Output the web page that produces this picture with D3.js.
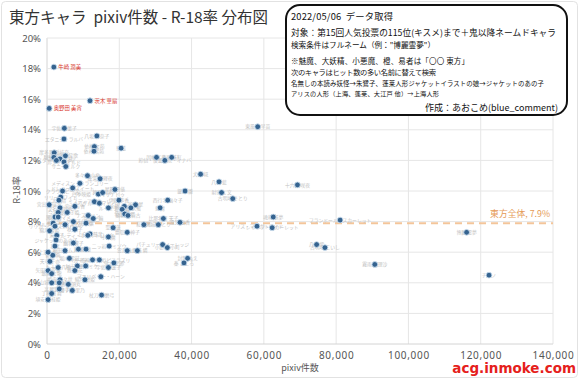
<!DOCTYPE html>
<html><head><meta charset="utf-8">
<script src="https://cdn.jsdelivr.net/npm/d3@7"></script>
<style>body{margin:0;background:#fff}svg{display:block}text{white-space:pre}</style>
</head><body>
<svg id="c" width="580" height="381"></svg>
<script>
// ---------- data ----------
const names = [
 "牛崎 潤美","茨木 華扇","奥野田 美宵","宇佐見 菫子","エタニティラルバ","八坂 神奈子","依神 女苑","依神 紫苑","純狐","摩多羅 隠岐奈",
 "庭渡 久侘歌","驪駒 早鬼","吉弔 八千慧","ルナチャイルド","スターサファイア","サニーミルク","因幡 てゐ","藤原 妹紅","鈴仙・優曇華院・イナバ","多々良 小傘",
 "蓬莱山 輝夜","犬走 椛","八雲 藍","射命丸 文","古明地 さとり","東風谷 早苗","十六夜 咲夜","魂魄 妖夢","アリス・マーガトロイド","レミリア・スカーレット",
 "フランドール・スカーレット","八雲 紫","古明地 こいし","霧雨 魔理沙","博麗 霊夢","チルノ","封獣 ぬえ","秦 こころ","西行寺 幽々子","魅魔",
 "比那名居 天子","鍵山 雛","風見 幽香","河城 にとり","紅 美鈴","パチュリー・ノーレッジ","小野塚 小町","メディスン・メランコリー","ドレミー・スイート","クラウンピース",
 "四季映姫・ヤマザナドゥ","稗田 阿求","星熊 勇儀","リリーホワイト","大妖精","ミスティア・ローレライ","リグル・ナイトバグ","ルーミア","伊吹 萃香","水橋 パルスィ",
 "宮古 芳香","少名 針妙丸","寅丸 星","今泉 影狼","赤蛮奇","わかさぎ姫","ナズーリン","雲居 一輪","霍 青娥","物部 布都",
 "蘇我 屠自古","村紗 水蜜","黒谷 ヤマメ","キスメ","リリカ・プリズムリバー","ルナサ・プリズムリバー","メルラン・プリズムリバー","秋 静葉","秋 穣子","聖 白蓮",
 "豊聡耳 神子","上白沢 慧音","レティ・ホワイトロック","小悪魔","朱鷺子","ジャケットのあの子","幽谷 響子","易者","坂田 ネムノ","二ッ岩 マミゾウ",
 "霊烏路 空","火焔猫 燐","鈴瑚","清蘭","菅牧 典","天弓 千亦","上海人形","稀神 サグメ","ヘカーティア・ラピスラズリ","鬼人 正邪",
 "堀川 雷鼓","九十九 八橋","九十九 弁々","豪徳寺 ミケ","宇佐見 蓮子","矢田寺 成美","戎 瓔花","飯綱丸 龍","マエリベリー・ハーン","綿月 依姫",
 "姫虫 百々世","山城 たかね","駒草 山如","玉造 魅須丸","高麗野 あうん","爾子田 里乃","丁礼田 舞","杖刀偶 磨弓","埴安神 袿姫","宮出口 瑞霊",
 "綿月 豊姫"
];
const pixivCounts = [
 1900,11900,600,4800,4700,13800,13100,13000,20500,2000,
 5100,1900,3600,4700,2600,5200,30300,34500,32600,11200,
 14700,42500,47600,48300,51400,58300,69300,62600,58100,62300,
 81100,74600,76900,90700,116100,122300,38900,37900,33400,31300,
 32200,38200,36800,30800,26800,32000,33300,9100,7100,4300,
 14200,15400,18800,3800,3300,13100,14500,17000,19900,21400,
 7700,3600,24500,3100,2200,5600,11400,12800,20800,21500,
 22400,23200,3100,1700,2200,7300,5000,10800,7700,18300,
 22200,11900,11300,17000,2700,2500,7300,2200,5000,17200,
 22200,25000,8700,10800,1600,800,300,12600,14500,18500,
 6200,3100,8400,10700,17000,300,7700,1300,14900,10500,
 3600,1300,3400,5900,3400,7000,1300,15100,300,600,
 700
];
const r18Rates = [
 18.1,15.9,15.4,14.1,13.4,13.6,12.9,12.6,12.8,12.5,
 12.3,12.2,12.1,11.9,12.0,11.6,12.2,12.2,12.0,11.0,
 10.8,11.1,10.6,9.9,9.5,14.2,10.4,8.3,7.7,7.6,
 8.1,6.5,6.3,5.2,7.3,4.5,5.6,5.3,9.4,8.9,
 8.2,10.0,7.95,7.8,7.8,6.5,6.3,10.5,10.2,10.0,
 9.8,9.9,10.1,9.6,9.4,9.3,9.2,8.9,9.4,9.0,
 9.0,8.9,9.1,8.6,8.3,8.6,8.4,8.2,8.8,8.5,
 8.4,8.9,8.3,7.9,7.7,8.0,7.8,7.9,7.5,7.6,
 7.3,7.2,7.1,7.0,7.1,6.8,6.6,6.4,6.1,6.4,
 6.1,6.1,6.2,6.2,5.8,5.4,6.0,5.5,5.5,5.3,
 5.6,5.0,5.1,5.1,5.0,4.8,4.8,4.6,4.4,4.2,
 4.2,4.0,4.0,3.9,3.6,3.5,3.3,3.2,2.9,9.1,
 7.4
];
const highlightNames = ["牛崎 潤美","茨木 華扇","奥野田 美宵"];
const xTicks = [0,20000,40000,60000,80000,100000,120000,140000];
const yTicks = [0,2,4,6,8,10,12,14,16,18,20];
const overallRate = 7.9;
const overallLabel = "東方全体, 7.9%";
const titleText = "東方キャラ  pixiv件数 - R-18率 分布図";
const xTitle = "pixiv件数";
const yTitle = "R-18率";
const infoLines = [
 "2022/05/06  データ取得",
 "対象：第15回人気投票の115位(キスメ)まで＋鬼以降ネームドキャラ",
 "検索条件はフルネーム（例：\"博麗霊夢\"）",
 "※魅魔、大妖精、小悪魔、橙、易者は「〇〇 東方」",
 "次のキャラはヒット数の多い名前に替えて検索",
 "名無しの本読み妖怪→朱鷺子、蓬莱人形ジャケットイラストの娘→ジャケットのあの子",
 "アリスの人形（上海、蓬莱、大江戸 他）→上海人形"
];
const creditText = "作成：あおこめ(blue_comment)";
const watermark = "acg.inmoke.com";

// ---------- layout ----------
const JP = "'Noto Sans CJK JP','Noto Sans',sans-serif";
const svg = d3.select("#c");
const L = 47, R = 553, T = 38, B = 344;
const x = d3.scaleLinear().domain([0, 140000]).range([L, R]);
const y = d3.scaleLinear().domain([0, 20]).range([B, T]);
const pts = names.map((n, i) => ({name: n, v: pixivCounts[i], r: r18Rates[i], hi: highlightNames.includes(n)}));

// card
svg.append("rect").attr("x", 1.5).attr("y", 1.5).attr("width", 576).attr("height", 376)
  .attr("rx", 4).attr("fill", "#fff").attr("stroke", "#e2e2e2");

// grid
const g = svg.append("g");
g.selectAll("line.v").data(xTicks).join("line")
  .attr("x1", d => x(d)).attr("x2", d => x(d)).attr("y1", T).attr("y2", B)
  .attr("stroke", d => d === 0 ? "#d4d4d4" : "#e6e6e6").attr("stroke-width", 1);
g.selectAll("line.h").data(yTicks).join("line")
  .attr("x1", L).attr("x2", R).attr("y1", d => y(d)).attr("y2", d => y(d))
  .attr("stroke", d => d === 0 ? "#d4d4d4" : "#e6e6e6").attr("stroke-width", 1);

// axes labels via d3 axes
const xAxis = d3.axisBottom(x).tickValues(xTicks).tickFormat(d3.format(",")).tickSize(0).tickPadding(8);
const xa = svg.append("g").attr("transform", `translate(0,${B})`).call(xAxis);
xa.select(".domain").remove();
xa.selectAll("text").attr("font-family", "'Noto Sans',sans-serif").attr("font-size", 10)
  .attr("letter-spacing", 0.7).attr("fill", "#555");
const yAxis = d3.axisLeft(y).tickValues(yTicks).tickFormat(d => d + "%").tickSize(0).tickPadding(6);
const ya = svg.append("g").attr("transform", `translate(${L},0)`).call(yAxis);
ya.select(".domain").remove();
ya.selectAll("text").attr("font-family", "'Noto Sans',sans-serif").attr("font-size", 9.5).attr("fill", "#555");

// overall line
svg.append("line").attr("x1", L).attr("x2", R).attr("y1", y(overallRate)).attr("y2", y(overallRate))
  .attr("stroke", "#f3c59a").attr("stroke-width", 2).attr("stroke-dasharray", "7,5");

// gray labels
svg.append("g").selectAll("text").data(pts.filter(d => !d.hi)).join("text")
  .attr("x", d => x(d.v)).attr("y", d => y(d.r)).attr("dy", "0.35em")
  .attr("text-anchor", "middle").attr("font-family", JP).attr("font-size", 4.8)
  .attr("fill", "#c2c2c2").text(d => d.name);

// points
svg.append("g").selectAll("circle").data(pts).join("circle")
  .attr("cx", d => x(d.v)).attr("cy", d => y(d.r)).attr("r", 2.9)
  .attr("fill", "#35638f").attr("stroke", "#c9dced").attr("stroke-width", 0.9);

// highlighted labels
svg.append("g").selectAll("text").data(pts.filter(d => d.hi)).join("text")
  .attr("x", d => x(d.v) + 4.5).attr("y", d => y(d.r)).attr("dy", "0.35em")
  .attr("font-family", JP).attr("font-size", 5.4).attr("fill", "#d8332b").text(d => d.name);

// overall label
svg.append("text").attr("x", 550).attr("y", y(overallRate) - 6).attr("text-anchor", "end")
  .attr("font-family", JP).attr("font-size", 8.8).attr("fill", "#e59a56").text(overallLabel);

// titles
svg.append("text").attr("x", 9).attr("y", 22.5).attr("font-family", JP).attr("font-size", 15.5)
  .attr("fill", "#333").text(titleText);
svg.append("text").attr("x", 300).attr("y", 371).attr("text-anchor", "middle").attr("font-family", JP)
  .attr("font-size", 9).attr("fill", "#555").text(xTitle);
svg.append("text").attr("transform", "translate(20,190) rotate(-90)").attr("text-anchor", "middle")
  .attr("font-family", JP).attr("font-size", 9).attr("fill", "#555").text(yTitle);

// info box
svg.append("rect").attr("x", 286).attr("y", 5).attr("width", 281).attr("height", 110).attr("rx", 14)
  .attr("fill", "#fff").attr("stroke", "#111").attr("stroke-width", 2);
const infoSize = [9.3, 8.7, 7.6, 7.5, 7.3, 6.4, 6.2];
const infoY = [20, 35.5, 48, 63.5, 75, 86, 95.5];
const infoW = [102, 265, 144, 178, 145, 253, 148];
svg.append("g").selectAll("text").data(infoLines).join("text")
  .attr("x", 291).attr("y", (d, i) => infoY[i]).attr("font-family", JP)
  .attr("font-size", (d, i) => infoSize[i]).attr("fill", "#111")
  .attr("textLength", (d, i) => infoW[i]).attr("lengthAdjust", "spacing").text(d => d);
svg.append("text").attr("x", 558).attr("y", 111).attr("text-anchor", "end").attr("font-family", JP)
  .attr("font-size", 9).attr("fill", "#111").text(creditText);

// watermark
svg.append("text").attr("x", 576).attr("y", 373).attr("text-anchor", "end")
  .attr("font-family", "'DejaVu Sans',sans-serif").attr("font-weight", "bold").attr("font-size", 13.5)
  .attr("fill", "#e5201b").text(watermark);
</script>
</body></html>
